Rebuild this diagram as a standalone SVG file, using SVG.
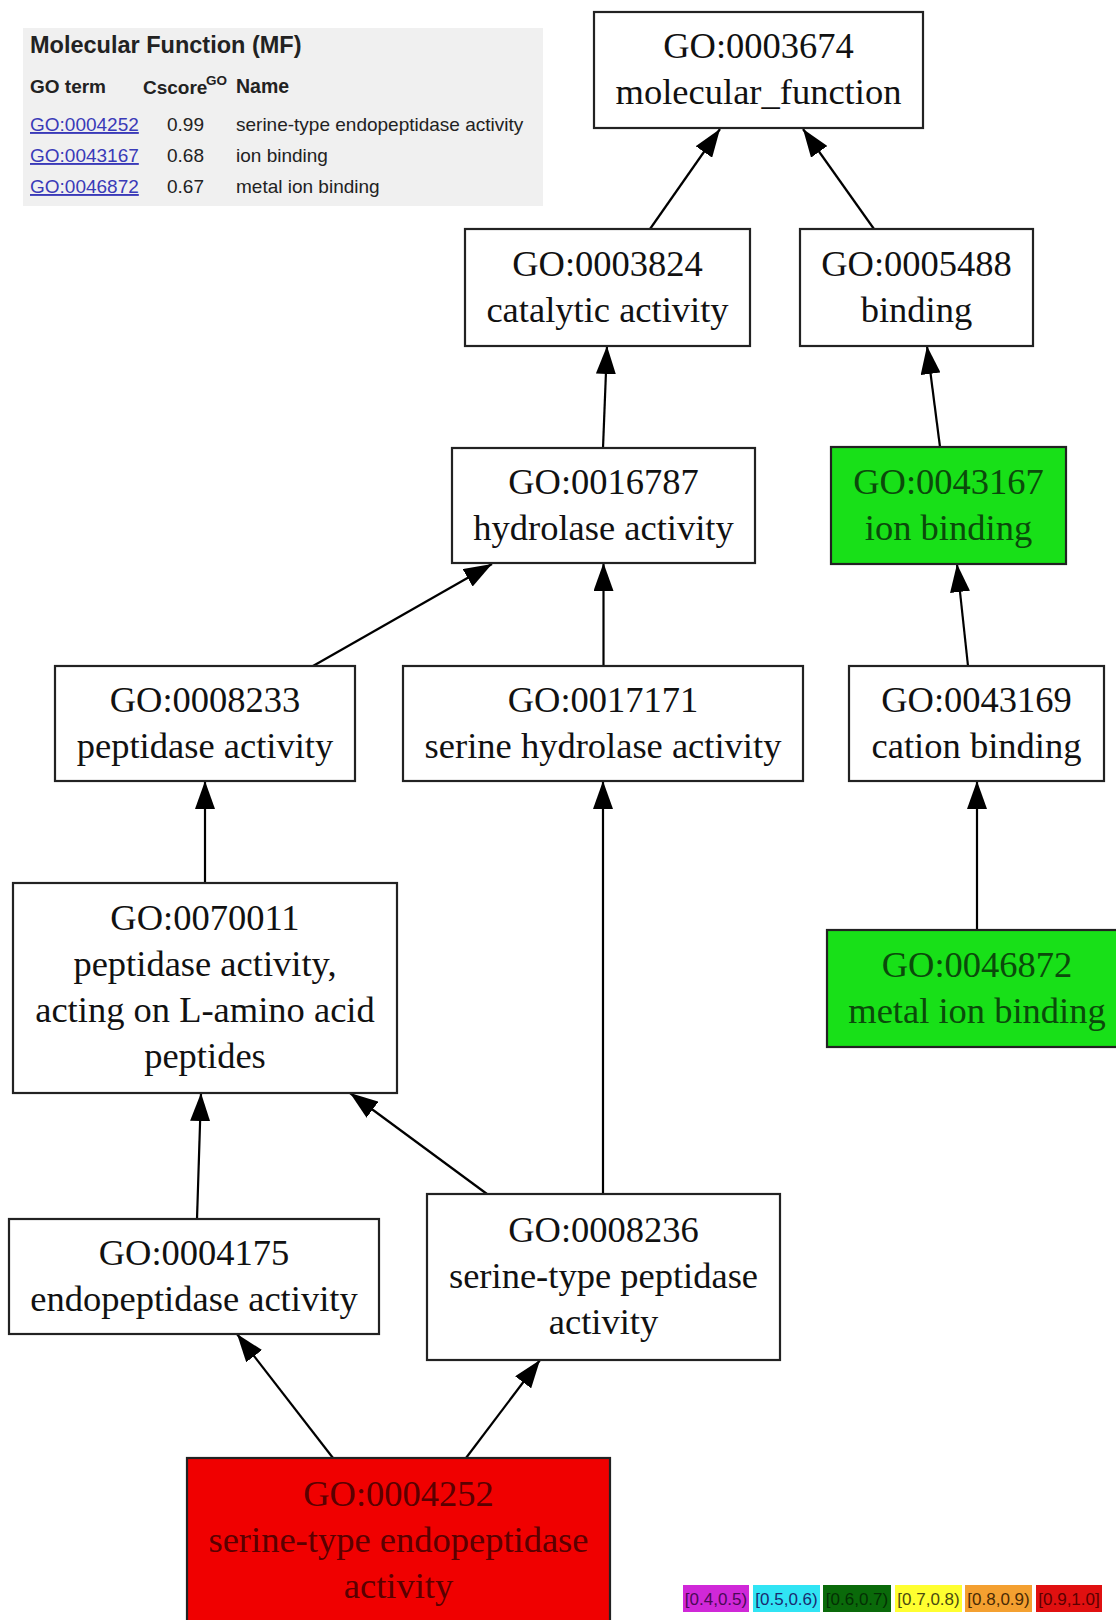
<svg xmlns="http://www.w3.org/2000/svg" width="1116" height="1620" viewBox="0 0 1116 1620">
<defs>
<marker id="ah" markerUnits="userSpaceOnUse" markerWidth="28" markerHeight="20" refX="28" refY="10" orient="auto">
<path d="M0,0 L28,10 L0,20 z" fill="#000"/>
</marker>
<style>
.box{fill:#fff;stroke:#222;stroke-width:2.2}
.grn{fill:#18e018;stroke:#222;stroke-width:2.2}
.red{fill:#f00000;stroke:#222;stroke-width:2.2}
.lbl{font-family:"Liberation Serif","Times New Roman",serif;font-size:36.5px;text-anchor:middle;fill:#111}
.lg{fill:#0b4a0b}
.lr{fill:#5a0000}
.edge{stroke:#000;stroke-width:2.2;fill:none;marker-end:url(#ah)}
.tb{font-family:"Liberation Sans",Arial,sans-serif;fill:#222}
.lk{fill:#3a3ab8;text-decoration:underline}
.leg{font-family:"Liberation Sans",Arial,sans-serif;font-size:17px;text-anchor:middle}
</style>
</defs>
<rect width="1116" height="1620" fill="#fff"/>

<g id="table">
<rect x="23" y="28" width="520" height="178" fill="#f0f0f0"/>
<text class="tb" x="30" y="53" font-size="23.5" font-weight="bold">Molecular Function (MF)</text>
<text class="tb" x="30" y="93" font-size="19" font-weight="bold">GO term</text>
<text class="tb" x="143" y="94" font-size="19" font-weight="bold">Cscore</text>
<text class="tb" x="206" y="85" font-size="13.5" font-weight="bold">GO</text>
<text class="tb" x="236" y="93" font-size="19.5" font-weight="bold">Name</text>
<text class="tb lk" x="30" y="131" font-size="19">GO:0004252</text>
<text class="tb" x="167" y="131" font-size="19">0.99</text>
<text class="tb" x="236" y="131" font-size="19">serine-type endopeptidase activity</text>
<text class="tb lk" x="30" y="162" font-size="19">GO:0043167</text>
<text class="tb" x="167" y="162" font-size="19">0.68</text>
<text class="tb" x="236" y="162" font-size="19">ion binding</text>
<text class="tb lk" x="30" y="193" font-size="19">GO:0046872</text>
<text class="tb" x="167" y="193" font-size="19">0.67</text>
<text class="tb" x="236" y="193" font-size="19">metal ion binding</text>
</g>

<g id="connectors">
<line class="edge" x1="650" y1="229" x2="720" y2="129"/>
<line class="edge" x1="874" y1="229" x2="803" y2="129"/>
<line class="edge" x1="603" y1="448" x2="607" y2="346"/>
<line class="edge" x1="940" y1="447" x2="927" y2="346"/>
<line class="edge" x1="313" y1="666" x2="492" y2="564"/>
<line class="edge" x1="603.5" y1="666" x2="603.5" y2="563"/>
<line class="edge" x1="968" y1="666" x2="957" y2="564"/>
<line class="edge" x1="205" y1="883" x2="205" y2="781"/>
<line class="edge" x1="603" y1="1194" x2="603" y2="781"/>
<line class="edge" x1="977" y1="930" x2="977" y2="781"/>
<line class="edge" x1="197" y1="1219" x2="201" y2="1093"/>
<line class="edge" x1="487" y1="1194" x2="350" y2="1093"/>
<line class="edge" x1="333" y1="1458" x2="237" y2="1334"/>
<line class="edge" x1="466" y1="1458" x2="540" y2="1360"/>
</g>

<g id="GO0003674">
<rect class="box" x="594" y="12" width="329" height="116"/>
<text class="lbl" x="758.5" y="58">GO:0003674</text>
<text class="lbl" x="758.5" y="104">molecular_function</text>
</g>
<g id="GO0003824">
<rect class="box" x="465" y="229" width="285" height="117"/>
<text class="lbl" x="607.5" y="275.5">GO:0003824</text>
<text class="lbl" x="607.5" y="321.5">catalytic activity</text>
</g>
<g id="GO0005488">
<rect class="box" x="800" y="229" width="233" height="117"/>
<text class="lbl" x="916.5" y="275.5">GO:0005488</text>
<text class="lbl" x="916.5" y="321.5">binding</text>
</g>
<g id="GO0016787">
<rect class="box" x="452" y="448" width="303" height="115"/>
<text class="lbl" x="603.5" y="493.5">GO:0016787</text>
<text class="lbl" x="603.5" y="539.5">hydrolase activity</text>
</g>
<g id="GO0043167">
<rect class="grn" x="831" y="447" width="235" height="117"/>
<text class="lbl lg" x="948.5" y="493.5">GO:0043167</text>
<text class="lbl lg" x="948.5" y="539.5">ion binding</text>
</g>
<g id="GO0008233">
<rect class="box" x="55" y="666" width="300" height="115"/>
<text class="lbl" x="205" y="711.5">GO:0008233</text>
<text class="lbl" x="205" y="757.5">peptidase activity</text>
</g>
<g id="GO0017171">
<rect class="box" x="403" y="666" width="400" height="115"/>
<text class="lbl" x="603" y="711.5">GO:0017171</text>
<text class="lbl" x="603" y="757.5">serine hydrolase activity</text>
</g>
<g id="GO0043169">
<rect class="box" x="849" y="666" width="255" height="115"/>
<text class="lbl" x="976.5" y="711.5">GO:0043169</text>
<text class="lbl" x="976.5" y="757.5">cation binding</text>
</g>
<g id="GO0070011">
<rect class="box" x="13" y="883" width="384" height="210"/>
<text class="lbl" x="205" y="930">GO:0070011</text>
<text class="lbl" x="205" y="976">peptidase activity,</text>
<text class="lbl" x="205" y="1022">acting on L-amino acid</text>
<text class="lbl" x="205" y="1068">peptides</text>
</g>
<g id="GO0046872">
<rect class="grn" x="827" y="930" width="300" height="117"/>
<text class="lbl lg" x="977" y="976.5">GO:0046872</text>
<text class="lbl lg" x="977" y="1022.5">metal ion binding</text>
</g>
<g id="GO0004175">
<rect class="box" x="9" y="1219" width="370" height="115"/>
<text class="lbl" x="194" y="1264.5">GO:0004175</text>
<text class="lbl" x="194" y="1310.5">endopeptidase activity</text>
</g>
<g id="GO0008236">
<rect class="box" x="427" y="1194" width="353" height="166"/>
<text class="lbl" x="603.5" y="1242">GO:0008236</text>
<text class="lbl" x="603.5" y="1288">serine-type peptidase</text>
<text class="lbl" x="603.5" y="1334">activity</text>
</g>
<g id="GO0004252">
<rect class="red" x="187" y="1458" width="423" height="166"/>
<text class="lbl lr" x="398.5" y="1506">GO:0004252</text>
<text class="lbl lr" x="398.5" y="1552">serine-type endopeptidase</text>
<text class="lbl lr" x="398.5" y="1598">activity</text>
</g>

<g id="legend">
<rect x="683" y="1585" width="66" height="27" fill="#d028d8"/>
<text class="leg" x="716" y="1605" fill="#4a0a55">[0.4,0.5)</text>
<rect x="753" y="1585" width="67" height="27" fill="#30e4f4"/>
<text class="leg" x="786.5" y="1605" fill="#1a2a70">[0.5,0.6)</text>
<rect x="823" y="1585" width="68" height="27" fill="#0a6a0a"/>
<text class="leg" x="857" y="1605" fill="#043004">[0.6,0.7)</text>
<rect x="895" y="1585" width="67" height="27" fill="#ffff30"/>
<text class="leg" x="928.5" y="1605" fill="#4a4a10">[0.7,0.8)</text>
<rect x="965" y="1585" width="67" height="27" fill="#f4a030"/>
<text class="leg" x="998.5" y="1605" fill="#4a2a05">[0.8,0.9)</text>
<rect x="1036" y="1585" width="66" height="27" fill="#e01010"/>
<text class="leg" x="1069" y="1605" fill="#5a0000">[0.9,1.0]</text>
</g>
</svg>
